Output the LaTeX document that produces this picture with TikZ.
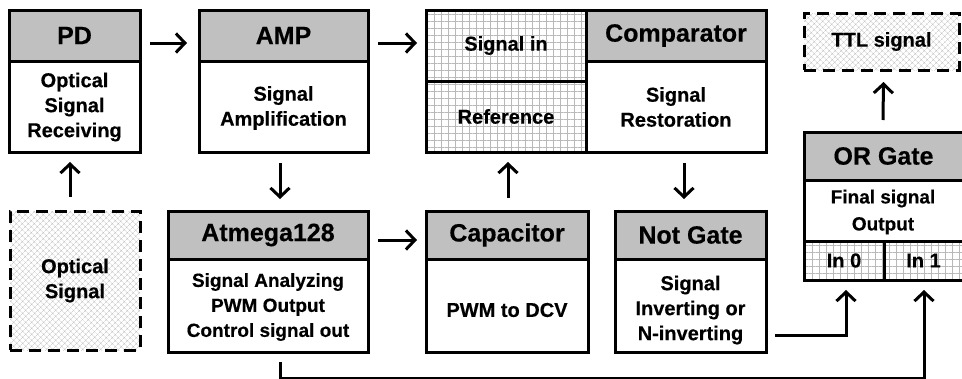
\documentclass[tikz,border=0pt]{standalone}
\usepackage{fontspec}
\setmainfont{Liberation Sans}[BoldFeatures={FakeBold=0.4}]
\usetikzlibrary{arrows.meta,patterns.meta,calc}
\definecolor{hdgray}{RGB}{192,192,192}
\definecolor{gridgray}{RGB}{185,185,185}
\definecolor{xgray}{RGB}{190,190,190}
\begin{document}
\begin{tikzpicture}[x=1pt,y=-1pt,
  bx/.style={draw=black, line width=3pt, fill=white, anchor=north west, inner sep=0pt, outer sep=0pt},
  hd/.style={bx, fill=hdgray, font=\fontsize{25}{30}\selectfont\bfseries},
  grd/.style={bx, preaction={fill=white}, pattern={Hatch[angle=0,distance=7pt,line width=0.6pt]}, pattern color=gridgray, font=\fontsize{20}{25}\selectfont\bfseries},
  dsh/.style={anchor=north west, inner sep=0pt, outer sep=0pt, draw=black, line width=3pt, dash pattern=on 12pt off 7pt, preaction={fill=white}, pattern={Hatch[angle=45,distance=4pt,line width=0.4pt]}, pattern color=xgray, font=\fontsize{20}{25}\selectfont\bfseries, align=center},
  txt/.style={align=center, font=\fontsize{20}{25}\selectfont\bfseries, inner sep=0pt},
  arr/.style={line width=3pt, -{Straight Barb[length=9pt,width=19pt]}},
]
\clip (0,0) rectangle (962,378);
\fill[white] (0,0) rectangle (962,378);

% PD
\node[bx, minimum width=131pt, minimum height=142pt] (pd) at (9,10) {};
\node[hd, minimum width=131pt, minimum height=51pt] (pdh) at (9,10) {PD};
\node[txt] (pdt) at (74.5,107) {Optical\\Signal\\Receiving};

% AMP
\node[bx, minimum width=169pt, minimum height=142pt] (amp) at (199,10) {};
\node[hd, minimum width=169pt, minimum height=51pt] (amph) at (199,10) {AMP};
\node[txt] (ampt) at (283.5,108) {Signal\\Amplification};

% Comparator
\node[bx, minimum width=340pt, minimum height=142pt] (comp) at (426,10) {};
\node[grd, minimum width=160pt, minimum height=71pt] (sigin) at (426,10) {Signal in};
\node[grd, minimum width=160pt, minimum height=71pt] (ref) at (426,81) {Reference};
\node[hd, minimum width=180pt, minimum height=51pt] (comph) at (586,10) {Comparator};
\node[txt] (compt) at (676,107) {Signal\\Restoration};

% TTL signal
\node[dsh, minimum width=155pt, minimum height=57pt] (ttl) at (804,13) {TTL signal};

% OR Gate
\node[bx, minimum width=159pt, minimum height=148pt] (or) at (804,132) {};
\node[hd, minimum width=159pt, minimum height=48pt] (orh) at (804,132) {OR Gate};
\node[txt, font=\fontsize{19}{27}\selectfont\bfseries] (ort) at (883,212) {Final signal\\Output};
\node[grd, minimum width=80pt, minimum height=39pt] (in0) at (804,241) {In 0};
\node[grd, minimum width=79pt, minimum height=39pt] (in1) at (884,241) {In 1};

% Optical signal
\node[dsh, minimum width=130pt, minimum height=139pt] (opt) at (10,211) {Optical\\Signal};

% Atmega128
\node[bx, minimum width=200pt, minimum height=141pt] (atm) at (168,211) {};
\node[hd, minimum width=200pt, minimum height=48pt] (atmh) at (168,211) {Atmega128};
\node[txt, font=\fontsize{19}{25}\selectfont\bfseries] (atmt) at (268,307) {Signal Analyzing\\PWM Output\\Control signal out};

% Capacitor
\node[bx, minimum width=162pt, minimum height=141pt] (cap) at (426,211) {};
\node[hd, minimum width=162pt, minimum height=48pt] (caph) at (426,211) {Capacitor};
\node[txt] (capt) at (507,310) {PWM to DCV};

% Not Gate
\node[bx, minimum width=151pt, minimum height=141pt] (notg) at (615,211) {};
\node[hd, minimum width=151pt, minimum height=48pt] (notgh) at (615,211) {Not Gate};
\node[txt] (notgt) at (690.5,310) {Signal\\Inverting or\\N-inverting};

% connectors
\draw[arr] ($(pd.north east)+(10,33)$) -- ($(amp.north west)+(-12,33)$);
\draw[arr] ($(amp.north east)+(10,33)$) -- ($(comp.north west)+(-9,33)$);
\draw[arr] ($(atm.north east)+(10,29)$) -- ($(cap.north west)+(-9,29)$);
\draw[arr] ($(opt.north)+(-5,-14)$) -- ($(pd.south)+(-4.5,10)$);
\draw[arr] ($(amp.south)+(-3.5,11)$) -- ($(atm.north)+(12,-12)$);
\draw[arr] ($(cap.north)+(1,-13)$) -- ($(ref.south)+(2,10)$);
\draw[arr] ($(notg.north|-comp.south)+(-6.5,11)$) -- ($(notg.north)+(-6.5,-12)$);
\draw[arr] ($(or.north)+(-0.5,-12)$) -- ($(ttl.south)+(2,12)$);
\draw[arr] ($(notg.east)+(9,53.5)$) -| ($(in0.south)+(2,10)$);
\draw[arr] ($(atm.south)+(12,10)$) -- ($(atm.south)+(12,26.5)$) -| ($(in1.south)+(0.5,10)$);
\end{tikzpicture}
\end{document}
